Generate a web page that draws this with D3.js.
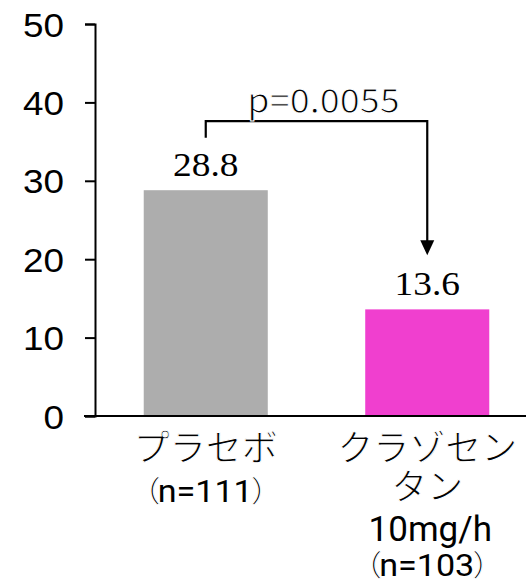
<!DOCTYPE html>
<html>
<head>
<meta charset="utf-8">
<script src="https://cdn.jsdelivr.net/npm/d3@7"></script>
<style>
  html, body { margin: 0; padding: 0; background: #fff; }
  svg { display: block; }
</style>
</head>
<body>
<div id="chart"></div>
<script>
// Treatment groups, one line of the label per array entry
const groups = ["placebo", "clazosentan"];
const groupNames = [["プラセボ"], ["クラゾセン", "タン"]];
const groupDoses = [null, "10mg/h"];
const groupCounts = ["n=111", "n=103"];
const values = [28.8, 13.6];
const barColors = ["#adadad", "#f03fcf"];
const yTicks = [0, 10, 20, 30, 40, 50];
const pLabel = "p=0.0055";
// comparison bracket, in value units
const bracketTop = 37.6;
const bracketLeftEnd = 35.5;
const arrowTip = 20.5;

const W = 526, H = 586;
const svg = d3.select("#chart").append("svg").attr("width", W).attr("height", H);

const y = d3.scaleLinear().domain([0, 50]).range([416, 24]);
const x = d3.scaleBand().domain(groups).range([95, 538]).paddingInner(0.44).paddingOuter(0.22);
const cx = g => x(g) + x.bandwidth() / 2;

const JP = "'Noto Sans CJK JP', sans-serif";
const LAT = "Roboto, 'Open Sans', sans-serif";

// horizontally widened text anchored at (px, py)
function wideText(g, px, py, str, sx, anchor) {
  const t = g.append("text")
    .attr("transform", `translate(${px},${py}) scale(${sx},1)`)
    .attr("text-anchor", anchor || "middle");
  if (str != null) t.text(str);
  return t;
}
// light look: a white outline painted over the fill slims the glyphs
function thin(sel, w) {
  return sel.attr("stroke", "#fff").attr("stroke-width", w).attr("paint-order", "fill");
}

// bars
svg.selectAll("rect.bar").data(values).join("rect")
  .attr("class", "bar")
  .attr("x", (d, i) => x(groups[i]))
  .attr("y", d => y(d))
  .attr("width", x.bandwidth())
  .attr("height", d => y(0) - y(d))
  .attr("fill", (d, i) => barColors[i]);

// y axis
const yAxis = d3.axisLeft(y).tickValues(yTicks).tickSize(10).tickSizeOuter(10).tickPadding(0);
const ag = svg.append("g").attr("transform", "translate(95,0)").call(yAxis);
ag.select(".domain").attr("stroke", "#000").attr("stroke-width", 2);
ag.selectAll(".tick line").attr("stroke", "#000").attr("stroke-width", 2);
ag.selectAll(".tick text").remove();
ag.selectAll(".tick").each(function(d) {
  wideText(d3.select(this), -31, 0, d3.format("d")(d), 1.1, "end")
    .attr("dy", "0.36em")
    .attr("font-family", "'Liberation Sans', Arial, sans-serif")
    .attr("font-size", 33.5)
    .attr("fill", "#000");
});

// x axis baseline
svg.append("line")
  .attr("x1", 84).attr("x2", W)
  .attr("y1", y(0)).attr("y2", y(0))
  .attr("stroke", "#000").attr("stroke-width", 2);

// value labels
values.forEach((v, i) => {
  wideText(svg, cx(groups[i]), y(v) - 14, v.toFixed(1), 1.1)
    .attr("font-family", "'Liberation Serif', 'Times New Roman', serif")
    .attr("font-size", 34)
    .attr("fill", "#000");
});

// category labels: name lines, optional dose line, then the count in parentheses
const firstBase = 461, lineGap = 38.5;
groups.forEach((g, i) => {
  const c = cx(g);
  let line = 0;
  groupNames[i].forEach(nm => {
    thin(svg.append("text")
      .attr("x", c).attr("y", firstBase + lineGap * line++)
      .attr("text-anchor", "middle")
      .attr("font-family", JP).attr("font-size", 36).attr("fill", "#000")
      .text(nm), 1.0);
  });
  if (groupDoses[i]) {
    svg.append("text")
      .attr("x", c + 3).attr("y", firstBase + lineGap * line++ + 3)
      .attr("text-anchor", "middle")
      .attr("font-family", LAT).attr("font-size", 35).attr("fill", "#000")
      .text(groupDoses[i]);
  }
  const t = wideText(svg, c, Math.min(firstBase + lineGap * line + 2, 576), null, 1.1)
    .attr("fill", "#000");
  thin(t.append("tspan").attr("font-family", JP).attr("font-size", 30).text("（"), 1.0);
  t.append("tspan").attr("dx", -3).attr("font-family", LAT).attr("font-size", 31).attr("stroke", "none").text(groupCounts[i]);
  thin(t.append("tspan").attr("dx", -2).attr("font-family", JP).attr("font-size", 30).text("）"), 1.0);
});

// comparison bracket with arrow
const xa = cx(groups[0]);
const xb = cx(groups[1]);
svg.append("path")
  .attr("d", `M${xa},${y(bracketLeftEnd)}V${y(bracketTop)}H${xb}V${y(arrowTip) - 14}`)
  .attr("fill", "none").attr("stroke", "#000").attr("stroke-width", 2.2);
svg.append("path")
  .attr("d", `M${xb - 7},${y(arrowTip) - 15}L${xb + 7},${y(arrowTip) - 15}L${xb},${y(arrowTip)}Z`)
  .attr("fill", "#000");
thin(wideText(svg, (xa + xb) / 2 + 7, y(bracketTop) - 8, pLabel, 1.06)
  .attr("font-family", JP)
  .attr("font-size", 34)
  .attr("fill", "#000"), 1.0);
</script>
</body>
</html>
